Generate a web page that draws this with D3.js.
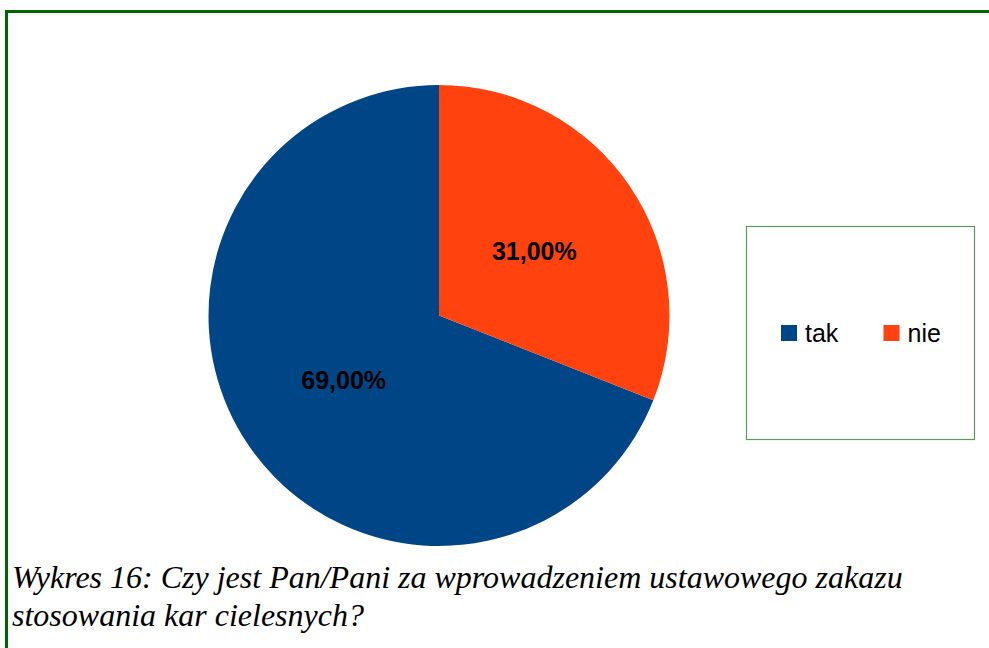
<!DOCTYPE html>
<html lang="pl">
<head>
<meta charset="utf-8">
<title>Wykres 16</title>
<script src="https://d3js.org/d3.v7.min.js"></script>
<style>
  body { margin: 0; background: #fff; }
  svg { display: block; }
</style>
</head>
<body>
<script>
// ---- data ----
var categories = ["tak", "nie"];
var values = [69, 31];
var labels = ["69,00%", "31,00%"];
var colors = ["#004586", "#ff420e"];
var caption = ["Wykres 16: Czy jest Pan/Pani za wprowadzeniem ustawowego zakazu",
               "stosowania kar cielesnych?"];

var width = 989, height = 648;

var svg = d3.select("body").append("svg")
    .attr("width", width)
    .attr("height", height);

// frame (top + left green lines)
svg.append("line")
    .attr("x1", 5).attr("x2", width)
    .attr("y1", 11.5).attr("y2", 11.5)
    .style("stroke", "#006600").style("stroke-width", 3);
svg.append("line")
    .attr("x1", 6.5).attr("x2", 6.5)
    .attr("y1", 10).attr("y2", height)
    .style("stroke", "#006600").style("stroke-width", 3);

// pie (tak runs counter-clockwise from 12 o'clock, nie fills the rest)
var cx = 439, cy = 315.5, r = 230.5;
var pie = d3.pie().sort(null)
    .startAngle(2 * Math.PI).endAngle(0)
    .value(function(d) { return d; });
var arc = d3.arc().innerRadius(0).outerRadius(r);
var arcs = pie(values);

var g = svg.append("g").attr("transform", "translate(" + cx + "," + cy + ")");
g.selectAll("path")
    .data(arcs)
    .enter().append("path")
    .attr("d", arc)
    .style("fill", function(d, i) { return colors[i]; });

g.selectAll("text")
    .data(arcs)
    .enter().append("text")
    .attr("transform", function(d) {
        var c = arc.centroid(d);
        return "translate(" + c[0] + "," + c[1] + ")";
    })
    .attr("dy", "0.36em")
    .attr("text-anchor", "middle")
    .style("font-family", "'Liberation Sans', Arial, sans-serif")
    .style("font-weight", "bold")
    .style("font-size", "25px")
    .style("fill", "#000")
    .text(function(d, i) { return labels[i]; });

// legend
var legend = svg.append("g");
legend.append("rect")
    .attr("x", 746.5).attr("y", 226.5)
    .attr("width", 228).attr("height", 213)
    .style("fill", "#fff")
    .style("stroke", "#5a9a5a")
    .style("stroke-width", 1.2);

var lx = d3.scaleOrdinal().domain(categories).range([781, 883.5]);
var item = legend.selectAll("g.item")
    .data(categories)
    .enter().append("g")
    .attr("class", "item")
    .attr("transform", function(d) { return "translate(" + lx(d) + ",325)"; });
item.append("rect")
    .attr("width", 16).attr("height", 16)
    .style("fill", function(d, i) { return colors[i]; });
item.append("text")
    .attr("x", 24).attr("y", 17)
    .style("font-family", "'Liberation Sans', Arial, sans-serif")
    .style("font-size", "25px")
    .style("fill", "#000")
    .text(function(d) { return d; });

// caption
svg.selectAll("text.caption")
    .data(caption)
    .enter().append("text")
    .attr("class", "caption")
    .attr("x", 12)
    .attr("y", function(d, i) { return 588 + i * 37.5; })
    .style("font-family", "'Liberation Serif', 'Times New Roman', serif")
    .style("font-style", "italic")
    .style("font-size", "32px")
    .style("fill", "#000")
    .text(function(d) { return d; });
</script>
</body>
</html>
